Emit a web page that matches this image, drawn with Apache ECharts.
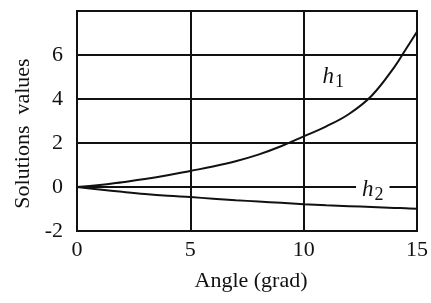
<!DOCTYPE html>
<html>
<head>
<meta charset="utf-8">
<script src="https://cdn.jsdelivr.net/npm/echarts@6/dist/echarts.min.js"></script>
<style>html,body{margin:0;padding:0;background:#fff}#c{width:431px;height:303px}</style>
</head>
<body>
<div id="c"></div>
<script>
const angles = [0,1,2,3,4,5,6,7,8,9,10,11,12,13,14,14.5,15];
const h1 = [0,0.09,0.22,0.36,0.53,0.73,0.93,1.17,1.47,1.85,2.3,2.76,3.32,4.15,5.45,6.25,7.06];
const h2 = [0,-0.11,-0.22,-0.32,-0.40,-0.46,-0.53,-0.60,-0.66,-0.72,-0.78,-0.83,-0.87,-0.91,-0.95,-0.97,-0.99];
const xTicks = [0,5,10,15];
const yTicks = [-2,0,2,4,6];

const font = 'Liberation Serif';
const pair = (xs, ys) => xs.map((x,i)=>[x, ys[i]]);
const chart = echarts.init(document.getElementById('c'), null, {renderer:'canvas'});
chart.setOption({
  animation:false,
  backgroundColor:'#fff',
  textStyle:{fontFamily:font},
  grid:{left:77,right:14,top:11,bottom:72,show:true,borderColor:'#111',borderWidth:2,backgroundColor:'transparent'},
  xAxis:{type:'value',min:0,max:15,interval:5,
    name:'Angle (grad)',nameLocation:'middle',nameGap:39,
    nameTextStyle:{fontFamily:font,fontSize:22,color:'#111',padding:[0,0,0,8]},
    axisLine:{show:false},axisTick:{show:false},
    axisLabel:{fontFamily:font,fontSize:22,color:'#111',margin:8,
      formatter:v=>xTicks.includes(v)?String(v):''},
    splitLine:{show:true,lineStyle:{color:'#111',width:2}}},
  yAxis:{type:'value',min:-2,max:8,interval:2,
    name:'Solutions  values',nameLocation:'middle',nameGap:43,
    nameTextStyle:{fontFamily:font,fontSize:22,color:'#111',padding:[0,25,0,0]},
    axisLine:{show:false},axisTick:{show:false},
    axisLabel:{fontFamily:font,fontSize:22,color:'#111',margin:14,
      formatter:v=>yTicks.includes(v)?String(v):''},
    splitLine:{show:true,lineStyle:{color:'#111',width:2}}},
  series:[
    {type:'line',data:pair(angles,h1),smooth:0.4,showSymbol:false,
      lineStyle:{color:'#111',width:2},
      markPoint:{symbol:'circle',symbolSize:0,data:[{coord:[11.3,5.0],
        label:{show:true,position:'inside',
          formatter:'{h|h}{s|1}',
          rich:{h:{fontFamily:font,fontSize:23,fontStyle:'italic',color:'#111'},
                s:{fontFamily:font,fontSize:18,color:'#111',padding:[10,0,0,1]}}}}]}},
    {type:'line',data:pair(angles,h2),smooth:0.4,showSymbol:false,
      lineStyle:{color:'#111',width:2},
      markPoint:{symbol:'circle',symbolSize:0,data:[{coord:[13.05,-0.15],
        label:{show:true,position:'inside',backgroundColor:'#fff',padding:[0,6,0,6],
          formatter:'{h|h}{s|2}',
          rich:{h:{fontFamily:font,fontSize:23,fontStyle:'italic',color:'#111'},
                s:{fontFamily:font,fontSize:18,color:'#111',padding:[10,0,0,1]}}}}]}}
  ]
});
</script>
</body>
</html>
